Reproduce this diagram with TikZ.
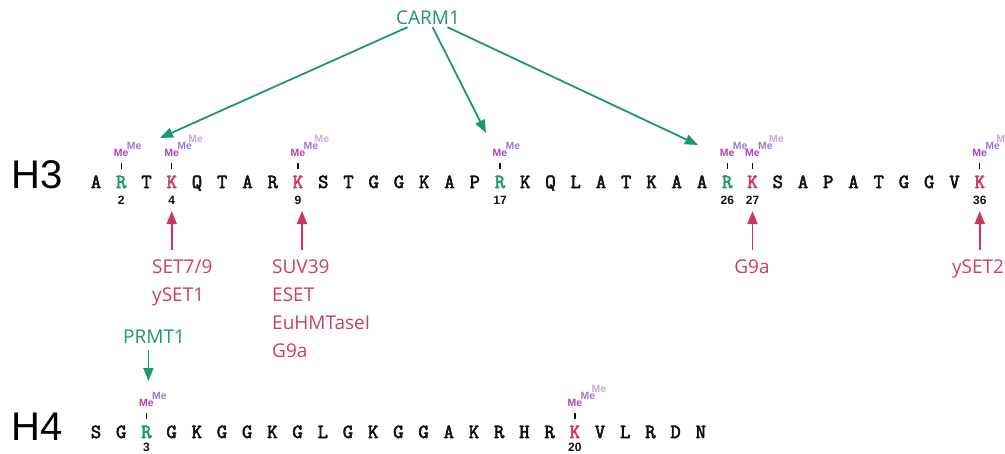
\documentclass[tikz,border=0pt]{standalone}
\usepackage{fontspec}
\setmainfont{Open Sans}
\newfontfamily\arialf{Liberation Sans}
\newfontfamily\seqfont[FakeBold=3]{Latin Modern Mono}
\usetikzlibrary{arrows.meta}
\definecolor{mgreen}{HTML}{1A9A68}
\definecolor{mred}{HTML}{D0345A}
\definecolor{labred}{HTML}{C8405E}
\definecolor{cb}{HTML}{111111}
\definecolor{meone}{HTML}{B040B8}
\definecolor{metwo}{HTML}{A078D0}
\definecolor{methree}{HTML}{C8A8E8}
\tikzset{
 res/.style={font=\seqfont\bfseries\fontsize{20}{20}\selectfont, inner sep=0pt, anchor=base},
 num/.style={font=\arialf\bfseries\fontsize{12}{12}\selectfont, inner sep=0pt, anchor=base, text=cb},
 meA/.style={font=\arialf\bfseries\fontsize{10.5}{10.5}\selectfont, inner sep=0pt, anchor=base, text=meone},
 meB/.style={font=\arialf\bfseries\fontsize{10.5}{10.5}\selectfont, inner sep=0pt, anchor=base, text=metwo},
 meC/.style={font=\arialf\bfseries\fontsize{10.5}{10.5}\selectfont, inner sep=0pt, anchor=base, text=methree},
 metick/.style={line width=1.4pt, draw=cb},
 garr/.style={draw=mgreen, line width=1.8pt, -{Triangle[length=13pt,width=10pt]}},
 rarr/.style={draw=mred, line width=1.8pt, -{Triangle[length=13pt,width=10pt]}},
 lab/.style={font=\fontsize{19}{28}\selectfont, inner sep=0pt, align=left},
 hlab/.style={font=\arialf\fontsize{40}{40}\selectfont, inner sep=0pt, anchor=base west}
}
\newcommand\methyl[2]{%
 \draw[metick] ([yshift=19.5pt]#1.base) -- ([yshift=25.5pt]#1.base);
 \node[meA] (#1m1) at ([yshift=31.5pt]#1.base) {Me};
 \node[meB] (#1m2) at ([xshift=13pt,yshift=38.5pt]#1.base) {Me};
 \ifnum#2>2 \node[meC] (#1m3) at ([xshift=24pt,yshift=46pt]#1.base) {Me};\fi
}
\begin{document}
\begin{tikzpicture}[x=1pt,y=-1pt]
\useasboundingbox (0,0) rectangle (1005,453);
% labels H3 / H4
\node[hlab] (H3) at (11,188) {H3};
\node[hlab] (H4) at (11,440) {H4};
% H3 sequence
\foreach \l/\c [count=\i] in {A/cb,R/mgreen,T/cb,K/mred,Q/cb,T/cb,A/cb,R/cb,K/mred,S/cb,T/cb,G/cb,G/cb,K/cb,A/cb,P/cb,R/mgreen,K/cb,Q/cb,L/cb,A/cb,T/cb,K/cb,A/cb,A/cb,R/mgreen,K/mred,S/cb,A/cb,P/cb,A/cb,T/cb,G/cb,G/cb,V/cb,K/mred}
  \node[res, text=\c] (h3r\i) at ({96+(\i-1)*25.25},188) {\l};
% H4 sequence
\foreach \l/\c [count=\i] in {S/cb,G/cb,R/mgreen,G/cb,K/cb,G/cb,G/cb,K/cb,G/cb,L/cb,G/cb,K/cb,G/cb,G/cb,A/cb,K/cb,R/cb,H/cb,R/cb,K/mred,V/cb,L/cb,R/cb,D/cb,N/cb}
  \node[res, text=\c] (h4r\i) at ({96+(\i-1)*25.2},438) {\l};
% residue numbers
\foreach \i in {2,4,9,17,26,27,36}
  \node[num] (h3n\i) at ([yshift=-16.5pt]h3r\i.base) {\i};
\foreach \i in {3,20}
  \node[num] (h4n\i) at ([yshift=-13.5pt]h4r\i.base) {\i};
% methyl marks
\methyl{h3r2}{2}
\methyl{h3r4}{3}
\methyl{h3r9}{3}
\methyl{h3r17}{2}
\methyl{h3r26}{2}
\methyl{h3r27}{3}
\methyl{h3r36}{3}
\methyl{h4r3}{2}
\methyl{h4r20}{3}
% CARM1
\node[font=\fontsize{19}{19}\selectfont, text=mgreen, inner sep=2pt] (carm) at (428,18) {CARM1};
\coordinate (c1) at (160,138);
\coordinate (c2) at (486,133);
\coordinate (c3) at (698,145);
\draw[garr] (carm) -- (c1);
\draw[garr] (carm) -- (c2);
\draw[garr] (carm) -- (c3);
% lysine methyltransferases
\node[lab, text=labred, anchor=north west] (set79) at (152,260) {SET7/9\\ySET1};
\node[lab, text=labred, anchor=north west] (suv) at (272,260) {SUV39\\ESET\\EuHMTaseI\\G9a};
\node[lab, text=labred, anchor=north] (g9a) at (752,260) {G9a};
\node[lab, text=labred, anchor=north] (yset2) at (978,260) {ySET2};
\draw[rarr] ([yshift=-62pt]h3r4.base) -- ([yshift=-23pt]h3r4.base);
\draw[rarr] ([xshift=4pt,yshift=-62pt]h3r9.base) -- ([xshift=4pt,yshift=-23pt]h3r9.base);
\draw[rarr] ([yshift=-62pt]h3r27.base) -- ([yshift=-23pt]h3r27.base);
\draw[rarr] ([yshift=-62pt]h3r36.base) -- ([yshift=-23pt]h3r36.base);
% PRMT1
\node[lab, text=mgreen, anchor=north west] (prmt) at (123,330) {PRMT1};
\draw[garr] ([xshift=2pt,yshift=88pt]h4r3.base) -- ([xshift=2pt,yshift=57pt]h4r3.base);
\end{tikzpicture}
\end{document}
